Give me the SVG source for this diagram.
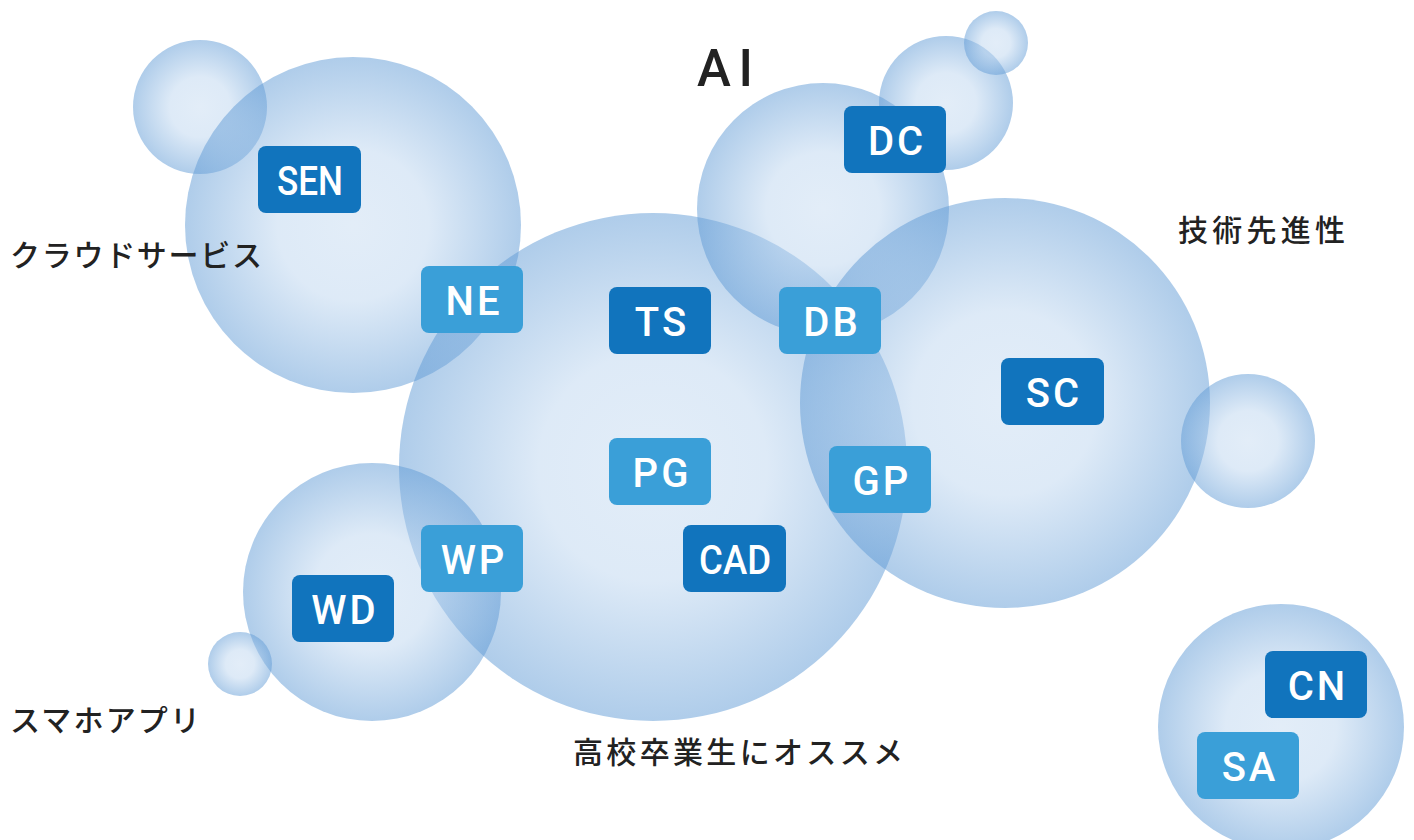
<svg xmlns="http://www.w3.org/2000/svg" width="1414" height="840" viewBox="0 0 1414 840">
<defs>
<radialGradient id="bub" cx="0.5" cy="0.5" r="0.5">
<stop offset="0" stop-color="#c6dbf1" stop-opacity="0.5"/>
<stop offset="0.45" stop-color="#bcd5ef" stop-opacity="0.5"/>
<stop offset="1" stop-color="#5f9ad5" stop-opacity="0.5"/>
</radialGradient>
</defs>
<style>
.b{fill:url(#bub)}
.dk{fill:#1174bd}
.lt{fill:#3a9fd8}
.lb{font-family:Roboto,"Liberation Sans",sans-serif;font-weight:500;font-size:40px;fill:#fff;text-anchor:middle;letter-spacing:3px}
.cat{font-family:"Noto Sans CJK JP","Noto Sans",sans-serif;font-weight:500;font-size:30px;fill:#222}
</style>
<rect width="1414" height="840" fill="#fff"/>
<g id="bubbles">
<circle class="b" cx="200" cy="107" r="67"/>
<circle class="b" cx="353" cy="225" r="168"/>
<circle class="b" cx="653" cy="467" r="254"/>
<circle class="b" cx="823" cy="209" r="126"/>
<circle class="b" cx="946" cy="103" r="67"/>
<circle class="b" cx="996" cy="43" r="32"/>
<circle class="b" cx="1005" cy="403" r="205"/>
<circle class="b" cx="1248" cy="441" r="67"/>
<circle class="b" cx="372" cy="592" r="129"/>
<circle class="b" cx="240" cy="664" r="32"/>
<circle class="b" cx="1281" cy="727" r="123"/>
</g>
<g id="categories">
<text x="697" y="86" textLength="56" style="font-family:Roboto,'Liberation Sans',sans-serif;font-weight:500;font-size:51px;fill:#222">AI</text>
<text class="cat" x="10" y="266" textLength="252">クラウドサービス</text>
<text class="cat" x="1178" y="241" textLength="167">技術先進性</text>
<text class="cat" x="10" y="731" textLength="190">スマホアプリ</text>
<text class="cat" x="573" y="763" textLength="330">高校卒業生にオススメ</text>
</g>
<g id="connectors"></g>
<g id="node-SEN"><rect class="dk" x="258" y="146" width="103" height="67" rx="8"/><text class="lb" x="310" y="195" textLength="66" lengthAdjust="spacingAndGlyphs" style="letter-spacing:0">SEN</text></g>
<g id="node-NE"><rect class="lt" x="421" y="266" width="102" height="67" rx="8"/><text class="lb" x="474" y="315">NE</text></g>
<g id="node-TS"><rect class="dk" x="609" y="287" width="102" height="67" rx="8"/><text class="lb" x="662" y="336">TS</text></g>
<g id="node-DB"><rect class="lt" x="779" y="287" width="102" height="67" rx="8"/><text class="lb" x="832" y="336">DB</text></g>
<g id="node-DC"><rect class="dk" x="844" y="106" width="102" height="67" rx="8"/><text class="lb" x="897" y="155">DC</text></g>
<g id="node-SC"><rect class="dk" x="1001" y="358" width="103" height="67" rx="8"/><text class="lb" x="1054" y="407">SC</text></g>
<g id="node-PG"><rect class="lt" x="609" y="438" width="102" height="67" rx="8"/><text class="lb" x="662" y="487">PG</text></g>
<g id="node-GP"><rect class="lt" x="829" y="446" width="102" height="67" rx="8"/><text class="lb" x="882" y="495">GP</text></g>
<g id="node-WP"><rect class="lt" x="421" y="525" width="102" height="67" rx="8"/><text class="lb" x="474" y="574">WP</text></g>
<g id="node-CAD"><rect class="dk" x="683" y="525" width="103" height="67" rx="8"/><text class="lb" x="735" y="574" textLength="72" lengthAdjust="spacingAndGlyphs" style="letter-spacing:0">CAD</text></g>
<g id="node-WD"><rect class="dk" x="292" y="575" width="102" height="67" rx="8"/><text class="lb" x="345" y="624">WD</text></g>
<g id="node-CN"><rect class="dk" x="1265" y="651" width="102" height="67" rx="8"/><text class="lb" x="1318" y="700">CN</text></g>
<g id="node-SA"><rect class="lt" x="1197" y="732" width="102" height="67" rx="8"/><text class="lb" x="1250" y="781">SA</text></g>
</svg>
